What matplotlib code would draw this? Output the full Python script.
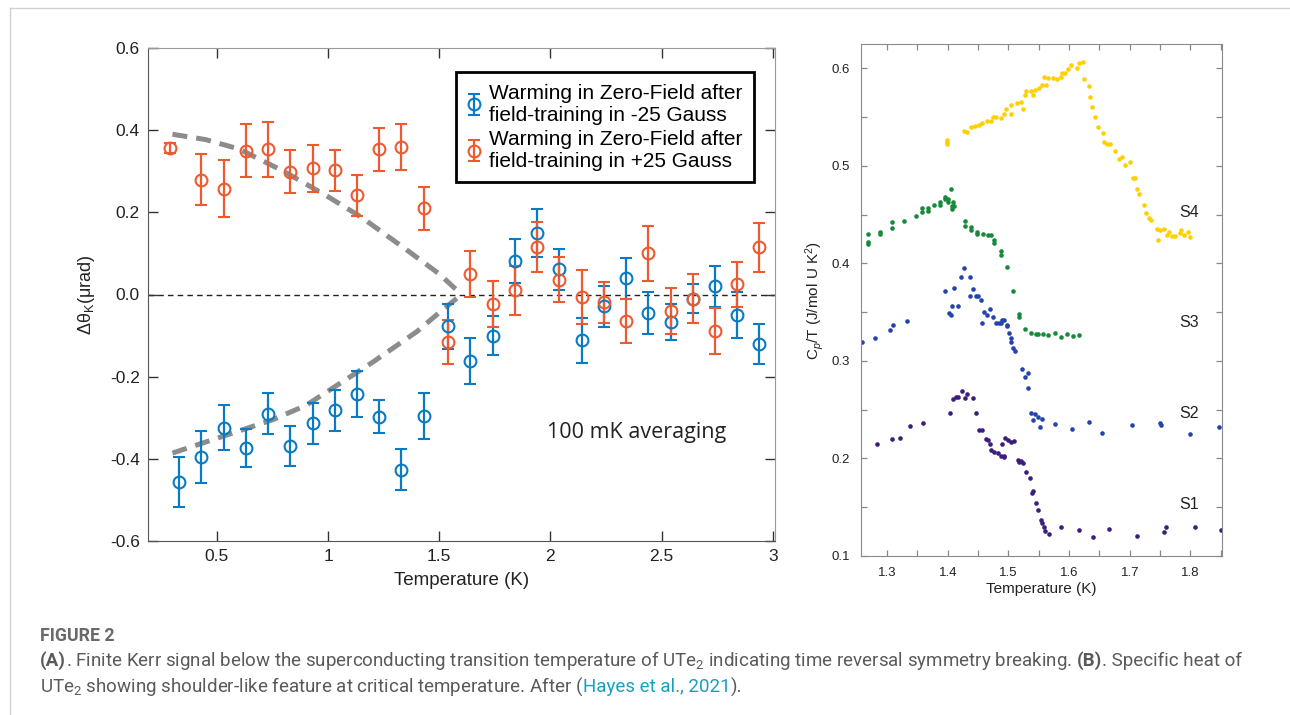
import sys
import matplotlib
matplotlib.use("Agg")
import matplotlib.pyplot as plt
from matplotlib.lines import Line2D
from matplotlib.ticker import MultipleLocator, FixedLocator

plt.rcParams['font.family'] = ['Liberation Sans', 'DejaVu Sans']
plt.rcParams['mathtext.fontset'] = 'custom'
plt.rcParams['mathtext.rm'] = 'Liberation Sans'
plt.rcParams['mathtext.it'] = 'Liberation Sans:italic'
plt.rcParams['mathtext.bf'] = 'Liberation Sans:bold'

# ---------------- Panel A data (Kerr signal) ----------------
temp_minus = [0.33, 0.43, 0.53, 0.63, 0.73, 0.83, 0.93, 1.03, 1.13, 1.23, 1.33, 1.43, 1.54, 1.64,
              1.74, 1.84, 1.94, 2.04, 2.14, 2.24, 2.34, 2.44, 2.54, 2.64, 2.74, 2.84, 2.94]
kerr_minus = [-0.457, -0.395, -0.324, -0.374, -0.290, -0.369, -0.313, -0.282, -0.241, -0.297, -0.426,
              -0.295, -0.077, -0.162, -0.100, 0.081, 0.150, 0.061, -0.111, -0.029, 0.039, -0.045,
              -0.067, -0.010, 0.020, -0.049, -0.120]
err_minus = [0.061, 0.063, 0.054, 0.046, 0.050, 0.048, 0.050, 0.050, 0.056, 0.040, 0.050, 0.056, 0.055,
             0.057, 0.047, 0.054, 0.059, 0.050, 0.055, 0.050, 0.050, 0.050, 0.043, 0.035, 0.050, 0.056, 0.048]

temp_plus = [0.29, 0.43, 0.53, 0.63, 0.73, 0.83, 0.93, 1.03, 1.13, 1.23, 1.33, 1.43, 1.54, 1.64,
             1.74, 1.84, 1.94, 2.04, 2.14, 2.24, 2.34, 2.44, 2.54, 2.64, 2.74, 2.84, 2.94]
kerr_plus = [0.356, 0.279, 0.258, 0.350, 0.353, 0.299, 0.307, 0.302, 0.242, 0.353, 0.359, 0.210, -0.116,
             0.049, -0.023, 0.010, 0.115, 0.036, -0.007, -0.019, -0.065, 0.100, -0.040, -0.010, -0.089,
             0.025, 0.115]
err_plus = [0.012, 0.062, 0.069, 0.065, 0.066, 0.052, 0.058, 0.050, 0.050, 0.053, 0.056, 0.052, 0.054,
            0.056, 0.057, 0.060, 0.061, 0.055, 0.066, 0.050, 0.053, 0.067, 0.055, 0.060, 0.056, 0.055, 0.060]

guide_up_T = [0.30, 0.45, 0.60, 0.80, 1.00, 1.15, 1.35, 1.50, 1.60]
guide_up_V = [0.390, 0.377, 0.354, 0.300, 0.238, 0.188, 0.110, 0.050, 0.000]
guide_dn_T = [0.30, 0.50, 0.75, 0.90, 1.08, 1.20, 1.40, 1.50, 1.60]
guide_dn_V = [-0.386, -0.350, -0.305, -0.270, -0.207, -0.165, -0.090, -0.044, 0.000]

legend_labels = ["Warming in Zero-Field after\nfield-training in -25 Gauss",
                 "Warming in Zero-Field after\nfield-training in +25 Gauss"]
a_xticks = [0.5, 1, 1.5, 2, 2.5, 3]
a_xticklabels = ["0.5", "1", "1.5", "2", "2.5", "3"]
a_yticks = [-0.6, -0.4, -0.2, 0.0, 0.2, 0.4, 0.6]
a_yticklabels = ["-0.6", "-0.4", "-0.2", "0.0", "0.2", "0.4", "0.6"]

# ---------------- Panel B data (specific heat) ----------------
T_S4 = [1.399, 1.399, 1.399, 1.426, 1.432, 1.439, 1.445, 1.451, 1.457, 1.464, 1.471, 1.475, 1.480, 1.488,
        1.492, 1.496, 1.504, 1.505, 1.514, 1.521, 1.524, 1.528, 1.529, 1.538, 1.541, 1.544, 1.550, 1.556,
        1.558, 1.562, 1.566, 1.573, 1.580, 1.586, 1.588, 1.594, 1.598, 1.603, 1.613, 1.617, 1.623, 1.624,
        1.633, 1.634, 1.638, 1.642, 1.648, 1.656, 1.657, 1.663, 1.667, 1.676, 1.682, 1.688, 1.692, 1.700,
        1.706, 1.709, 1.712, 1.716, 1.724, 1.727, 1.731, 1.735, 1.745, 1.746, 1.750, 1.757, 1.761, 1.765,
        1.770, 1.775, 1.782, 1.784, 1.790, 1.796, 1.800]
C_S4 = [0.527, 0.525, 0.522, 0.536, 0.535, 0.540, 0.541, 0.542, 0.544, 0.546, 0.546, 0.550, 0.550, 0.549,
        0.553, 0.558, 0.553, 0.562, 0.564, 0.566, 0.558, 0.573, 0.577, 0.577, 0.573, 0.578, 0.580, 0.583,
        0.591, 0.583, 0.590, 0.590, 0.589, 0.591, 0.595, 0.595, 0.599, 0.603, 0.600, 0.606, 0.607, 0.589,
        0.582, 0.571, 0.560, 0.550, 0.540, 0.534, 0.524, 0.522, 0.522, 0.515, 0.507, 0.509, 0.501, 0.504,
        0.488, 0.488, 0.476, 0.471, 0.460, 0.452, 0.447, 0.445, 0.435, 0.424, 0.434, 0.435, 0.429, 0.432,
        0.428, 0.428, 0.431, 0.434, 0.429, 0.432, 0.427]

T_S3 = [1.268, 1.268, 1.268, 1.288, 1.288, 1.308, 1.308, 1.328, 1.348, 1.357, 1.357, 1.367, 1.367, 1.378,
        1.388, 1.388, 1.396, 1.396, 1.400, 1.400, 1.406, 1.407, 1.407, 1.409, 1.410, 1.428, 1.428, 1.439,
        1.439, 1.449, 1.449, 1.458, 1.467, 1.472, 1.477, 1.477, 1.487, 1.487, 1.497, 1.507, 1.518, 1.518,
        1.527, 1.538, 1.546, 1.549, 1.557, 1.566, 1.576, 1.586, 1.597, 1.607, 1.617]
C_S3 = [0.430, 0.422, 0.420, 0.432, 0.430, 0.442, 0.436, 0.443, 0.449, 0.457, 0.453, 0.457, 0.454, 0.460,
        0.463, 0.460, 0.468, 0.466, 0.466, 0.4635, 0.476, 0.459, 0.456, 0.4625, 0.459, 0.443, 0.438, 0.437,
        0.434, 0.432, 0.430, 0.430, 0.4296, 0.4296, 0.424, 0.421, 0.413, 0.409, 0.396, 0.372, 0.348, 0.3455,
        0.333, 0.3285, 0.328, 0.328, 0.3275, 0.327, 0.3285, 0.325, 0.328, 0.326, 0.327]

T_S2 = [1.259, 1.280, 1.304, 1.310, 1.332, 1.396, 1.402, 1.405, 1.407, 1.411, 1.417, 1.421, 1.426, 1.436,
        1.436, 1.441, 1.446, 1.450, 1.455, 1.457, 1.460, 1.465, 1.470, 1.475, 1.480, 1.484, 1.487, 1.489,
        1.492, 1.497, 1.498, 1.501, 1.504, 1.505, 1.508, 1.510, 1.523, 1.528, 1.532, 1.533, 1.538, 1.541,
        1.543, 1.548, 1.552, 1.556, 1.576, 1.604, 1.632, 1.655, 1.703, 1.750, 1.751, 1.799, 1.847]
C_S2 = [0.319, 0.324, 0.332, 0.337, 0.341, 0.3715, 0.349, 0.347, 0.356, 0.3746, 0.356, 0.386, 0.395, 0.386,
        0.3667, 0.3736, 0.3667, 0.3667, 0.362, 0.339, 0.3506, 0.3472, 0.3531, 0.3455, 0.339, 0.339, 0.339,
        0.342, 0.342, 0.337, 0.336, 0.329, 0.324, 0.319, 0.313, 0.310, 0.292, 0.2834, 0.288, 0.2727, 0.2466,
        0.239, 0.246, 0.243, 0.232, 0.2404, 0.2353, 0.2302, 0.2373, 0.226, 0.2345, 0.2363, 0.234, 0.225, 0.232]

T_S1 = [1.283, 1.308, 1.322, 1.338, 1.359, 1.403, 1.409, 1.413, 1.417, 1.423, 1.428, 1.432, 1.441, 1.447,
        1.452, 1.457, 1.463, 1.467, 1.469, 1.472, 1.477, 1.482, 1.487, 1.492, 1.490, 1.493, 1.495, 1.500,
        1.505, 1.509, 1.515, 1.518, 1.521, 1.524, 1.529, 1.535, 1.539, 1.540, 1.546, 1.549, 1.553, 1.556,
        1.559, 1.560, 1.567, 1.587, 1.616, 1.640, 1.665, 1.712, 1.756, 1.760, 1.808, 1.850]
C_S1 = [0.2147, 0.2199, 0.221, 0.2328, 0.2363, 0.247, 0.2609, 0.2635, 0.2629, 0.2687, 0.262, 0.266, 0.2625,
        0.247, 0.229, 0.2287, 0.2199, 0.219, 0.215, 0.209, 0.207, 0.206, 0.203, 0.203, 0.215, 0.202, 0.221,
        0.219, 0.217, 0.218, 0.198, 0.196, 0.197, 0.195, 0.186, 0.180, 0.165, 0.167, 0.1543, 0.1467, 0.137,
        0.1338, 0.1293, 0.126, 0.1225, 0.1293, 0.1262, 0.1191, 0.128, 0.1208, 0.1246, 0.1297, 0.1297, 0.127]

sample_names = ["S4", "S3", "S2", "S1"]
sample_label_y = [0.452, 0.339, 0.246, 0.153]
b_xticks = [1.3, 1.4, 1.5, 1.6, 1.7, 1.8]
b_yticks = [0.1, 0.2, 0.3, 0.4, 0.5, 0.6]

# ---------------- Figure ----------------
W, H = 1290, 715
fig = plt.figure(figsize=(W / 100, H / 100), dpi=100)

def px_rect(l, t, r, b):
    return [l / W, 1 - b / H, (r - l) / W, (b - t) / H]

# frame lines of the page
fig.add_artist(Line2D([10 / W, 10 / W], [0, 1 - 8 / H], transform=fig.transFigure, color='#d0d0d0', lw=1))
fig.add_artist(Line2D([10 / W, 1], [1 - 8 / H, 1 - 8 / H], transform=fig.transFigure, color='#d0d0d0', lw=1))

# ---------- Panel A ----------
BLUE = '#0a7bc2'
ORANGE = '#ee5a2f'
ax1 = fig.add_axes(px_rect(148, 48, 775, 541))
ax1.set_xlim(0.19, 3.01)
ax1.set_ylim(-0.6, 0.6)
ax1.axhline(0, color='#222222', lw=1.0, ls=(0, (4, 3)), zorder=1)
ax1.plot(guide_up_T, guide_up_V, color='#8c8c8c', lw=3.6, dashes=(3, 1.8), dash_capstyle='butt', zorder=2)
ax1.plot(guide_dn_T, guide_dn_V, color='#8c8c8c', lw=3.6, dashes=(3, 1.8), dash_capstyle='butt', zorder=2)

eb_kw = dict(fmt='o', mfc='none', ms=8.5, mew=1.5, elinewidth=1.6, capsize=4.5, capthick=1.6, zorder=3)
eb_b = ax1.errorbar(temp_minus, kerr_minus, yerr=err_minus, color=BLUE, **eb_kw)
eb_o = ax1.errorbar(temp_plus, kerr_plus, yerr=err_plus, color=ORANGE, **eb_kw)

leg = ax1.legend([eb_b, eb_o], legend_labels, loc='upper left', bbox_to_anchor=(0.491, 0.951),
                 borderaxespad=0, fontsize=15, frameon=True, fancybox=False, edgecolor='black',
                 framealpha=1, borderpad=0.55, handlelength=0.6, handletextpad=0.45, labelspacing=0.25)
leg.get_frame().set_linewidth(2.0)

ax1.text(0.78, 0.221, "100 mK averaging", transform=ax1.transAxes, ha='center', va='center',
         fontsize=15.5, family=['Open Sans', 'DejaVu Sans'], color='#222222')

ax1.xaxis.set_major_locator(FixedLocator(a_xticks))
ax1.set_xticklabels(a_xticklabels)
ax1.yaxis.set_major_locator(FixedLocator(a_yticks))
ax1.set_yticklabels(a_yticklabels)
ax1.tick_params(direction='in', length=7, width=1, top=True, right=True, labelsize=12.5, pad=6,
                color='#333333', labelcolor='#222222')
for s in ['left', 'bottom']:
    ax1.spines[s].set_color('#555555')
for s in ['top', 'right']:
    ax1.spines[s].set_color('#999999')
ax1.set_xlabel("Temperature (K)", fontsize=13.5, color='#222222')
ax1.set_ylabel("Δθ$_\\mathregular{K}$(μrad)", fontsize=13, color='#222222')
ax1.xaxis.set_label_coords(0.5, -(572 - 541) / 493)
ax1.yaxis.set_label_coords((97 - 148) / 627, 0.5)

# ---------- Panel B ----------
ax2 = fig.add_axes(px_rect(861, 44, 1222, 556))
ax2.set_xlim(1.257, 1.852)
ax2.set_ylim(0.1, 0.625)
dot = dict(ls='none', marker='o', ms=3.3, mec='none')
ax2.plot(T_S4, C_S4, color='#ffd000', **dot)
ax2.plot(T_S3, C_S3, color='#16893a', **dot)
ax2.plot(T_S2, C_S2, color='#2443ad', **dot)
ax2.plot(T_S1, C_S1, color='#3a1d7c', **dot)
for name, yy in zip(sample_names, sample_label_y):
    ax2.text(1.798, yy, name, ha='center', va='center', fontsize=11.5, color='#222222')

ax2.xaxis.set_major_locator(FixedLocator(b_xticks))
ax2.set_xticklabels([f"{v:.1f}" for v in b_xticks])
ax2.xaxis.set_minor_locator(MultipleLocator(0.05))
ax2.yaxis.set_major_locator(FixedLocator(b_yticks))
ax2.set_yticklabels([f"{v:.1f}" for v in b_yticks])
ax2.yaxis.set_minor_locator(MultipleLocator(0.05))
ax2.tick_params(which='both', direction='in', length=4, width=0.9, top=True, right=True,
                color='#888888', labelsize=9.5, pad=8, labelcolor='#222222')
for s in ax2.spines.values():
    s.set_color('#8a8a8a')
ax2.set_xlabel("Temperature (K)", fontsize=11, color='#222222')
ax2.set_ylabel("C$_\\mathit{p}$/T (J/mol U K$^\\mathregular{2}$)", fontsize=11, color='#222222')
ax2.xaxis.set_label_coords(0.5, -(582 - 556) / 512)
ax2.yaxis.set_label_coords((826 - 861) / 361, 0.5)

# ---------- Caption ----------
CAP_FONT = ['Roboto', 'DejaVu Sans']
CAP_COLOR = '#5a5a5a'
LINK_COLOR = '#1a9fc0'
renderer = fig.canvas.get_renderer()

def width_of(s, size, weight='normal'):
    t = fig.text(0, 0, s, fontsize=size, family=CAP_FONT, weight=weight)
    w = t.get_window_extent(renderer).width
    t.remove()
    return w

line1 = [("(A)", 'bold', CAP_COLOR),
         (". Finite Kerr signal below the superconducting transition temperature of UTe$_\\mathregular{2}$ "
          "indicating time reversal symmetry breaking.", 'normal', CAP_COLOR),
         (None, None, None),
         ("(B)", 'bold', CAP_COLOR),
         (". Specific heat of", 'normal', CAP_COLOR)]
line2 = [("UTe$_\\mathregular{2}$ showing shoulder-like feature at critical temperature. After (", 'normal', CAP_COLOR),
         ("Hayes et al., 2021", 'normal', LINK_COLOR),
         (").", 'normal', CAP_COLOR)]

def line_width(segs, size):
    sp = width_of("a a", size) - width_of("aa", size)
    tot = 0
    for s, wgt, c in segs:
        tot += sp if s is None else width_of(s, size, wgt)
    return tot

base = 10.0
cap_size = base * 1200.0 / line_width(line1, base)

def draw_line(segs, x0, y0, size):
    sp = width_of("a a", size) - width_of("aa", size)
    x = x0
    for s, wgt, c in segs:
        if s is None:
            x += sp
            continue
        t = fig.text(x / W, 1 - y0 / H, s, fontsize=size, family=CAP_FONT, weight=wgt, color=c,
                     ha='left', va='center')
        x += t.get_window_extent(renderer).width

fig.text(40 / W, 1 - 636 / H, "FIGURE 2", fontsize=cap_size * 0.95, family=CAP_FONT, weight='bold',
         color='#6a6a6a', ha='left', va='center')
draw_line(line1, 40, 661, cap_size)
draw_line(line2, 40, 687, cap_size)
print("caption size", cap_size, file=sys.stderr)

fig.savefig("out.png", dpi=100)
